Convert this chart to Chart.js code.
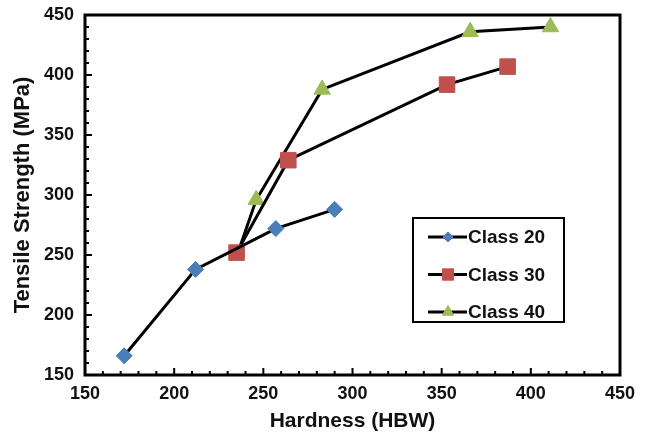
<!DOCTYPE html>
<html>
<head>
<meta charset="utf-8">
<script src="https://cdn.jsdelivr.net/npm/chart.js@4.4.1/dist/chart.umd.min.js"></script>
<style>
  html, body { margin: 0; padding: 0; background: #ffffff; }
  #wrap { width: 650px; height: 436px; }
</style>
</head>
<body>
<div id="wrap"><canvas id="chart" width="650" height="436"></canvas></div>
<script>
// data
const seriesNames = ["Class 20", "Class 30", "Class 40"];
const hardness20 = [172, 212, 257, 290];
const strength20 = [166, 238, 272, 288];
const hardness30 = [235, 264, 353, 387];
const strength30 = [252, 329, 392, 407];
const hardness40 = [236, 246, 283, 366, 411];
const strength40 = [253, 296, 388, 436, 440];

const xTicks = [150, 200, 250, 300, 350, 400, 450];
const yTicks = [150, 200, 250, 300, 350, 400, 450];

const fontFamily = "Arial, 'Liberation Sans', sans-serif";
const textColor = "#111111";

const toPoints = (xs, ys) => xs.map((x, i) => ({ x: x, y: ys[i] }));

// plot frame with inward tick marks (major every 50, minor every 10)
const framePlugin = {
    id: "frame",
    afterDatasetsDraw(chart) {
        const { ctx, chartArea: a, scales } = chart;
        ctx.save();
        ctx.strokeStyle = "#000000";
        ctx.lineWidth = 2;
        for (let v = xTicks[0]; v <= xTicks[xTicks.length - 1]; v += 10) {
            const px = scales.x.getPixelForValue(v);
            const len = v % 50 === 0 ? 7 : 4;
            ctx.beginPath();
            ctx.moveTo(px, a.bottom);
            ctx.lineTo(px, a.bottom - len);
            ctx.stroke();
        }
        for (let v = yTicks[0]; v <= yTicks[yTicks.length - 1]; v += 10) {
            const py = scales.y.getPixelForValue(v);
            const len = v % 50 === 0 ? 7 : 4;
            ctx.beginPath();
            ctx.moveTo(a.left, py);
            ctx.lineTo(a.left + len, py);
            ctx.stroke();
        }
        ctx.lineWidth = 3;
        ctx.strokeRect(a.left, a.top, a.right - a.left, a.bottom - a.top);
        ctx.restore();
    },
};

// boxed legend inside the plot area
const legendPlugin = {
    id: "boxLegend",
    afterDraw(chart) {
        const { ctx, chartArea: a } = chart;
        const boxW = 151, boxH = 104;
        const left = a.right - 56 - boxW;
        const top = a.top + 203;
        const radii = [5, 8, 6.5];
        ctx.save();
        ctx.fillStyle = "#ffffff";
        ctx.fillRect(left, top, boxW, boxH);
        ctx.strokeStyle = "#000000";
        ctx.lineWidth = 2;
        ctx.strokeRect(left, top, boxW, boxH);
        chart.data.datasets.forEach((ds, i) => {
            const cy = top + 19 + i * 37.5;
            ctx.strokeStyle = "#000000";
            ctx.lineWidth = 3;
            ctx.beginPath();
            ctx.moveTo(left + 15, cy);
            ctx.lineTo(left + 54, cy);
            ctx.stroke();
            ctx.fillStyle = ds.pointBackgroundColor;
            ctx.strokeStyle = ds.pointBackgroundColor;
            ctx.lineWidth = 1;
            Chart.helpers.drawPoint(ctx, { pointStyle: ds.pointStyle, radius: radii[i], rotation: 0, borderWidth: 1 }, left + 35, cy);
            ctx.fillStyle = textColor;
            ctx.font = "bold 19px " + fontFamily;
            ctx.textBaseline = "middle";
            ctx.textAlign = "left";
            ctx.fillText(ds.label, left + 55, cy + 1);
        });
        ctx.restore();
    },
};

new Chart(document.getElementById("chart"), {
    type: "line",
    data: {
        datasets: [
            {
                label: seriesNames[0],
                data: toPoints(hardness20, strength20),
                borderColor: "#000000",
                borderWidth: 3,
                pointStyle: "rectRot",
                pointRadius: 8,
                pointBackgroundColor: "#4A7EBB",
                pointBorderColor: "#4A7EBB",
                pointBorderWidth: 1,
            },
            {
                label: seriesNames[1],
                data: toPoints(hardness30, strength30),
                borderColor: "#000000",
                borderWidth: 3,
                pointStyle: "rect",
                pointRadius: 11,
                pointBackgroundColor: "#C0504D",
                pointBorderColor: "#C0504D",
                pointBorderWidth: 1,
            },
            {
                label: seriesNames[2],
                data: toPoints(hardness40, strength40),
                borderColor: "#000000",
                borderWidth: 3,
                pointStyle: "triangle",
                pointRadius: [0, 9.5, 9.5, 9.5, 9.5],
                pointBackgroundColor: "#9BBB59",
                pointBorderColor: "#9BBB59",
                pointBorderWidth: 1,
            },
        ],
    },
    options: {
        responsive: false,
        animation: false,
        layout: { padding: { top: 15, right: 30, left: 0, bottom: 0 } },
        plugins: {
            legend: { display: false },
            tooltip: { enabled: false },
        },
        scales: {
            x: {
                type: "linear",
                min: 150,
                max: 450,
                afterBuildTicks: (scale) => {
                    scale.ticks = xTicks.map((v) => ({ value: v }));
                },
                afterFit: (scale) => {
                    scale.height = 61;
                    scale.paddingLeft = 0;
                    scale.paddingRight = 0;
                },
                grid: { display: false, drawTicks: false },
                border: { display: false },
                ticks: {
                    padding: 8,
                    color: textColor,
                    font: { family: fontFamily, size: 18, weight: "bold" },
                    maxRotation: 0,
                },
                title: {
                    display: true,
                    text: "Hardness (HBW)",
                    color: textColor,
                    font: { family: fontFamily, size: 21, weight: "bold" },
                    padding: { top: 0, bottom: 2 },
                },
            },
            y: {
                type: "linear",
                min: 150,
                max: 450,
                afterBuildTicks: (scale) => {
                    scale.ticks = yTicks.map((v) => ({ value: v }));
                },
                afterFit: (scale) => {
                    scale.width = 85;
                    scale.paddingTop = 0;
                    scale.paddingBottom = 0;
                },
                grid: { display: false, drawTicks: false },
                border: { display: false },
                ticks: {
                    padding: 11,
                    color: textColor,
                    font: { family: fontFamily, size: 18, weight: "bold" },
                },
                title: {
                    display: true,
                    text: "Tensile Strength (MPa)",
                    color: textColor,
                    font: { family: fontFamily, size: 22, weight: "bold" },
                    padding: { top: 10, bottom: 0 },
                },
            },
        },
    },
    plugins: [framePlugin, legendPlugin],
});
</script>
</body>
</html>
